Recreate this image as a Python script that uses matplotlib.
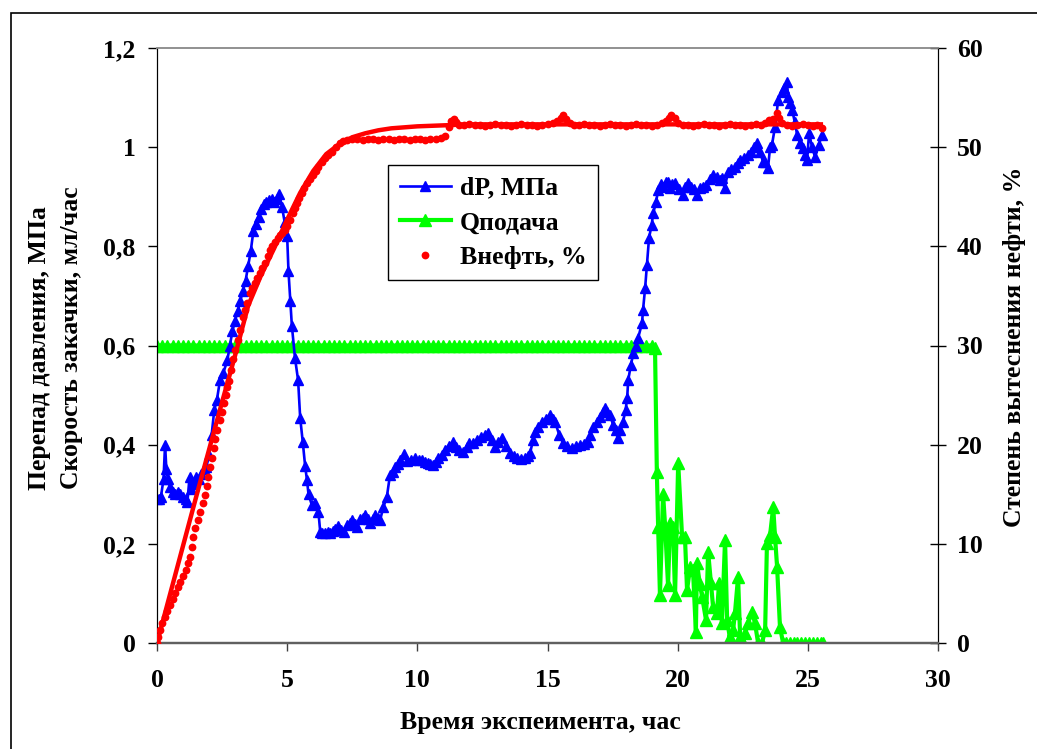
#!/usr/bin/env python3

import matplotlib
matplotlib.use("Agg")
import matplotlib.pyplot as plt
from matplotlib.lines import Line2D
from matplotlib.patches import Rectangle

# dP, MPa (left axis): (hours, value)
dp_points = [
    (0.0, 0.29), (0.08, 0.29), (0.15, 0.295), (0.25, 0.33), (0.31, 0.40), (0.36, 0.35),
    (0.42, 0.33), (0.5, 0.315), (0.6, 0.305), (0.7, 0.30), (0.8, 0.305), (0.9, 0.30),
    (1.0, 0.295), (1.1, 0.29), (1.17, 0.285), (1.25, 0.335), (1.32, 0.31), (1.4, 0.32),
    (1.5, 0.335), (1.6, 0.33), (1.7, 0.34), (1.8, 0.35), (1.9, 0.355), (2.0, 0.38),
    (2.1, 0.42), (2.2, 0.47), (2.3, 0.49), (2.42, 0.53), (2.55, 0.545), (2.7, 0.57),
    (2.8, 0.60), (2.9, 0.63), (3.0, 0.65), (3.1, 0.67), (3.2, 0.69), (3.3, 0.71),
    (3.4, 0.73), (3.5, 0.76), (3.6, 0.79), (3.7, 0.83), (3.8, 0.845), (3.9, 0.86),
    (4.0, 0.875), (4.1, 0.885), (4.2, 0.89), (4.3, 0.893), (4.4, 0.895), (4.5, 0.89),
    (4.6, 0.895), (4.7, 0.905), (4.8, 0.88), (4.9, 0.85), (5.0, 0.82), (5.05, 0.75),
    (5.12, 0.69), (5.18, 0.64), (5.3, 0.575), (5.42, 0.53), (5.5, 0.454), (5.6, 0.405),
    (5.69, 0.357), (5.76, 0.329), (5.82, 0.30), (5.95, 0.278), (6.07, 0.282), (6.2, 0.265),
    (6.27, 0.224), (6.35, 0.222), (6.45, 0.222), (6.55, 0.223), (6.65, 0.222), (6.75, 0.225),
    (6.85, 0.23), (6.95, 0.236), (7.05, 0.228), (7.2, 0.224), (7.3, 0.238), (7.4, 0.242),
    (7.5, 0.248), (7.6, 0.24), (7.68, 0.234), (7.8, 0.25), (7.9, 0.252), (8.0, 0.258),
    (8.1, 0.25), (8.18, 0.242), (8.28, 0.25), (8.37, 0.258), (8.47, 0.252), (8.57, 0.248),
    (8.7, 0.275), (8.83, 0.295), (8.95, 0.339), (9.05, 0.345), (9.14, 0.355), (9.25, 0.362),
    (9.33, 0.369), (9.49, 0.381), (9.6, 0.368), (9.75, 0.37), (9.91, 0.373), (10.05, 0.37),
    (10.18, 0.369), (10.3, 0.365), (10.4, 0.363), (10.5, 0.361), (10.6, 0.359), (10.7, 0.365),
    (10.8, 0.373), (10.95, 0.38), (11.06, 0.389), (11.2, 0.398), (11.37, 0.405), (11.5, 0.395),
    (11.6, 0.39), (11.76, 0.385), (11.9, 0.395), (12.0, 0.403), (12.14, 0.403), (12.3, 0.41),
    (12.45, 0.415), (12.6, 0.42), (12.72, 0.424), (12.85, 0.41), (12.98, 0.395), (13.1, 0.405),
    (13.25, 0.413), (13.4, 0.398), (13.56, 0.383), (13.7, 0.378), (13.83, 0.373), (14.0, 0.372),
    (14.14, 0.373), (14.25, 0.378), (14.33, 0.383), (14.45, 0.41), (14.52, 0.426), (14.65, 0.436),
    (14.79, 0.446), (14.95, 0.452), (15.1, 0.46), (15.2, 0.452), (15.29, 0.446), (15.45, 0.42),
    (15.6, 0.403), (15.75, 0.398), (15.94, 0.393), (16.1, 0.397), (16.25, 0.40), (16.4, 0.402),
    (16.56, 0.405), (16.65, 0.42), (16.75, 0.436), (16.9, 0.446), (17.02, 0.456), (17.12, 0.465),
    (17.21, 0.474), (17.3, 0.465), (17.4, 0.46), (17.52, 0.44), (17.62, 0.43), (17.71, 0.413),
    (17.8, 0.43), (17.9, 0.446), (18.0, 0.47), (18.06, 0.494), (18.1, 0.53), (18.2, 0.56),
    (18.3, 0.585), (18.4, 0.60), (18.48, 0.615), (18.63, 0.645), (18.67, 0.672), (18.75, 0.716),
    (18.82, 0.762), (18.9, 0.817), (19.0, 0.843), (19.06, 0.867), (19.17, 0.889), (19.25, 0.914),
    (19.35, 0.925), (19.45, 0.92), (19.55, 0.93), (19.62, 0.93), (19.7, 0.918), (19.8, 0.925),
    (19.9, 0.928), (20.05, 0.915), (20.2, 0.904), (20.3, 0.92), (20.4, 0.928), (20.5, 0.92),
    (20.62, 0.915), (20.74, 0.904), (20.86, 0.918), (20.98, 0.92), (21.1, 0.924), (21.25, 0.935),
    (21.36, 0.944), (21.5, 0.94), (21.63, 0.934), (21.7, 0.938), (21.8, 0.918), (21.94, 0.95),
    (22.05, 0.955), (22.2, 0.96), (22.3, 0.968), (22.4, 0.975), (22.55, 0.978), (22.7, 0.984),
    (22.8, 0.99), (22.95, 1.0), (23.05, 1.008), (23.17, 0.99), (23.28, 0.97), (23.36, 0.97),
    (23.47, 0.958), (23.55, 1.0), (23.62, 1.004), (23.74, 1.041), (23.86, 1.095), (24.0, 1.111),
    (24.1, 1.12), (24.2, 1.131), (24.24, 1.101), (24.32, 1.09), (24.4, 1.075), (24.5, 1.05),
    (24.59, 1.025), (24.7, 1.008), (24.82, 0.998), (24.9, 0.985), (24.97, 0.974), (25.05, 1.029),
    (25.16, 1.0), (25.28, 0.98), (25.42, 1.005), (25.55, 1.025),
]

# Q feed, ml/h (left axis): (hours, value)
q_points = [
    (0.0, 0.6), (0.2, 0.6), (0.4, 0.6), (0.6, 0.6), (0.8, 0.6), (1.0, 0.6), (1.2, 0.6),
    (1.4, 0.6), (1.6, 0.6), (1.8, 0.6), (2.0, 0.6), (2.2, 0.6), (2.4, 0.6), (2.6, 0.6),
    (2.8, 0.6), (3.0, 0.6), (3.2, 0.6), (3.4, 0.6), (3.6, 0.6), (3.8, 0.6), (4.0, 0.6),
    (4.2, 0.6), (4.4, 0.6), (4.6, 0.6), (4.8, 0.6), (5.0, 0.6), (5.2, 0.6), (5.4, 0.6),
    (5.6, 0.6), (5.8, 0.6), (6.0, 0.6), (6.2, 0.6), (6.4, 0.6), (6.6, 0.6), (6.8, 0.6),
    (7.0, 0.6), (7.2, 0.6), (7.4, 0.6), (7.6, 0.6), (7.8, 0.6), (8.0, 0.6), (8.2, 0.6),
    (8.4, 0.6), (8.6, 0.6), (8.8, 0.6), (9.0, 0.6), (9.2, 0.6), (9.4, 0.6), (9.6, 0.6),
    (9.8, 0.6), (10.0, 0.6), (10.2, 0.6), (10.4, 0.6), (10.6, 0.6), (10.8, 0.6), (11.0, 0.6),
    (11.2, 0.6), (11.4, 0.6), (11.6, 0.6), (11.8, 0.6), (12.0, 0.6), (12.2, 0.6), (12.4, 0.6),
    (12.6, 0.6), (12.8, 0.6), (13.0, 0.6), (13.2, 0.6), (13.4, 0.6), (13.6, 0.6), (13.8, 0.6),
    (14.0, 0.6), (14.2, 0.6), (14.4, 0.6), (14.6, 0.6), (14.8, 0.6), (15.0, 0.6), (15.2, 0.6),
    (15.4, 0.6), (15.6, 0.6), (15.8, 0.6), (16.0, 0.6), (16.2, 0.6), (16.4, 0.6), (16.6, 0.6),
    (16.8, 0.6), (17.0, 0.6), (17.2, 0.6), (17.4, 0.6), (17.6, 0.6), (17.8, 0.6), (18.0, 0.6),
    (18.2, 0.6), (18.4, 0.6), (18.6, 0.6), (18.8, 0.6), (19.0, 0.6), (19.13, 0.595),
    (19.2, 0.345), (19.25, 0.234), (19.32, 0.097), (19.44, 0.30), (19.52, 0.234), (19.63, 0.117),
    (19.71, 0.242), (19.82, 0.234), (19.9, 0.097), (20.02, 0.363), (20.17, 0.214), (20.28, 0.214),
    (20.36, 0.107), (20.48, 0.153), (20.59, 0.147), (20.7, 0.022), (20.74, 0.161), (20.85, 0.12),
    (20.94, 0.093), (21.09, 0.046), (21.17, 0.184), (21.28, 0.121), (21.36, 0.073), (21.51, 0.06),
    (21.59, 0.121), (21.7, 0.04), (21.82, 0.208), (21.9, 0.046), (22.0, 0.012), (22.13, 0.026),
    (22.2, 0.06), (22.32, 0.133), (22.4, 0.012), (22.51, 0.0), (22.6, 0.02), (22.7, 0.04),
    (22.86, 0.063), (22.97, 0.04), (23.09, 0.0), (23.24, 0.0), (23.36, 0.026), (23.43, 0.202),
    (23.55, 0.218), (23.67, 0.274), (23.74, 0.214), (23.82, 0.153), (23.93, 0.032), (24.05, 0.0),
    (24.15, 0.0), (24.3, 0.0), (24.45, 0.0), (24.6, 0.0), (24.75, 0.0), (24.9, 0.0),
    (25.05, 0.0), (25.2, 0.0), (25.35, 0.0), (25.5, 0.0), (25.6, 0.0),
]

# oil displacement, % (right axis), measured points: (hours, %)
oil_points = [
    (0.0, 0.0), (0.05, 0.6), (0.11, 1.3), (0.2, 2.0), (0.3, 2.6), (0.4, 3.2), (0.5, 3.8),
    (0.6, 4.4), (0.7, 5.0), (0.8, 5.6), (0.9, 6.2), (1.0, 6.8), (1.1, 7.4), (1.2, 8.1),
    (1.27, 8.7), (1.34, 9.7), (1.38, 10.7), (1.46, 11.6), (1.58, 12.4), (1.65, 13.2),
    (1.77, 14.1), (1.84, 14.9), (1.92, 15.8), (1.96, 16.7), (2.04, 17.7), (2.11, 18.7),
    (2.19, 19.7), (2.23, 20.6), (2.31, 21.5), (2.42, 22.5), (2.5, 23.3), (2.57, 24.2),
    (2.65, 25.0), (2.69, 25.8), (2.77, 26.4), (2.85, 27.5), (2.92, 28.6), (3.0, 29.5),
    (3.1, 30.6), (3.19, 31.6), (3.3, 32.9), (3.38, 33.6), (3.46, 34.3), (3.57, 35.3),
    (3.66, 35.8), (3.76, 36.3), (3.86, 36.8), (3.96, 37.3), (4.05, 37.8), (4.15, 38.3),
    (4.25, 39.0), (4.34, 39.6), (4.43, 40.0), (4.53, 40.4), (4.63, 40.8), (4.73, 41.1),
    (4.82, 41.3), (4.92, 41.6), (5.0, 42.1), (5.1, 42.7), (5.22, 43.4), (5.3, 43.9),
    (5.38, 44.4), (5.47, 44.9), (5.57, 45.4), (5.66, 45.9), (5.76, 46.4), (5.88, 46.8),
    (6.0, 47.2), (6.1, 47.6), (6.19, 48.0), (6.32, 48.5), (6.45, 48.9), (6.58, 49.2),
    (6.72, 49.5), (6.88, 50.0), (7.03, 50.4), (7.15, 50.6), (7.3, 50.7), (7.5, 50.8),
    (7.7, 50.8), (7.9, 50.7), (8.1, 50.8), (8.3, 50.8), (8.5, 50.7), (8.7, 50.8), (8.9, 50.8),
    (9.1, 50.7), (9.3, 50.8), (9.5, 50.8), (9.7, 50.7), (9.9, 50.8), (10.1, 50.8),
    (10.3, 50.7), (10.5, 50.8), (10.7, 50.8), (10.9, 50.9), (11.05, 51.1), (11.2, 52.0),
    (11.3, 52.6), (11.4, 52.8), (11.5, 52.5), (11.6, 52.2), (11.8, 52.2), (12.0, 52.3),
    (12.2, 52.2), (12.4, 52.2), (12.6, 52.1), (12.8, 52.2), (13.0, 52.3), (13.2, 52.2),
    (13.4, 52.2), (13.6, 52.1), (13.8, 52.2), (14.0, 52.3), (14.2, 52.2), (14.4, 52.2),
    (14.6, 52.1), (14.8, 52.2), (15.0, 52.3), (15.2, 52.4), (15.35, 52.6), (15.5, 52.9),
    (15.6, 53.2), (15.7, 52.8), (15.85, 52.4), (16.0, 52.2), (16.2, 52.2), (16.4, 52.3),
    (16.6, 52.2), (16.8, 52.2), (17.0, 52.1), (17.2, 52.2), (17.4, 52.3), (17.6, 52.2),
    (17.8, 52.2), (18.0, 52.1), (18.2, 52.2), (18.4, 52.3), (18.6, 52.2), (18.8, 52.2),
    (19.0, 52.1), (19.2, 52.2), (19.4, 52.4), (19.55, 52.6), (19.65, 52.9), (19.75, 53.2),
    (19.9, 52.9), (20.0, 52.4), (20.2, 52.2), (20.4, 52.2), (20.6, 52.1), (20.8, 52.2),
    (21.0, 52.3), (21.2, 52.2), (21.4, 52.2), (21.6, 52.1), (21.8, 52.2), (22.0, 52.3),
    (22.2, 52.2), (22.4, 52.2), (22.6, 52.1), (22.8, 52.2), (23.0, 52.3), (23.2, 52.2),
    (23.35, 52.4), (23.5, 52.7), (23.65, 52.8), (23.8, 53.4), (23.9, 52.9), (24.0, 52.4),
    (24.2, 52.2), (24.4, 52.1), (24.6, 52.2), (24.8, 52.3), (25.0, 52.2), (25.2, 52.1),
    (25.35, 52.2), (25.55, 51.9),
]

# smooth trend for oil displacement, %: (hours, %)
trend_points = [
    (0.0, 0.0), (0.5, 4.9), (1.0, 9.8), (1.5, 14.7), (2.0, 19.5), (2.5, 24.3), (3.0, 29.0),
    (3.5, 34.0), (4.0, 37.1), (4.5, 39.8), (5.0, 42.7), (5.5, 45.4), (6.0, 47.6), (6.5, 49.3),
    (7.0, 50.3), (7.5, 51.0), (8.0, 51.4), (8.5, 51.7), (9.0, 51.9), (10.0, 52.1), (11.0, 52.2),
    (12.0, 52.3), (14.0, 52.3), (18.0, 52.3), (22.0, 52.3), (25.5, 52.3),
]

x_ticks = [0, 5, 10, 15, 20, 25, 30]
left_ticks = [0, 0.2, 0.4, 0.6, 0.8, 1.0, 1.2]
left_labels = ["0", "0,2", "0,4", "0,6", "0,8", "1", "1,2"]
right_ticks = [0, 10, 20, 30, 40, 50, 60]

dp_time, dp_val = zip(*dp_points)
q_time, q_val = zip(*q_points)
oil_time, oil_val = zip(*oil_points)
trend_time, trend_val = zip(*trend_points)

font = "Liberation Serif"
fs = 18.5
plt.rcParams['font.family'] = font
plt.rcParams['font.weight'] = 'bold'

W, H = 1037, 749
fig = plt.figure(figsize=(W / 100, H / 100), dpi=100)
ax = fig.add_axes([157 / W, 1 - 643 / H, (938 - 157) / W, (643 - 48) / H])
ax2 = ax.twinx()

# outer chart border (only left/top edges fall inside the image)
fig.patches.append(Rectangle((11 / W, -0.2), 1.5, 1.2 - 13 / H, transform=fig.transFigure,
                             fill=False, edgecolor='black', linewidth=1.2))

ax.plot(q_time, q_val, color='#00ff00', lw=3.0, marker='^', ms=8, zorder=2)
ax.plot(dp_time, dp_val, color='#0000ff', lw=1.9, marker='^', ms=6.8, zorder=3)
ax2.plot(oil_time, oil_val, ls='none', marker='o', color='#ff0000', ms=5.6, mew=0, zorder=3)
ax2.plot(trend_time, trend_val, color='#ff0000', lw=3.2, zorder=4)

ax.set_xlim(0, 30)
ax.set_ylim(0, 1.2)
ax2.set_ylim(0, 60)
ax.set_xticks(x_ticks)
ax.set_xticklabels([str(v) for v in x_ticks], fontsize=fs, fontweight='bold')
ax.set_yticks(left_ticks)
ax.set_yticklabels(left_labels, fontsize=fs, fontweight='bold')
ax2.set_yticks(right_ticks)
ax2.set_yticklabels([str(v) for v in right_ticks], fontsize=fs, fontweight='bold')

ax.tick_params(axis='x', direction='out', length=6, width=1, color='#404040', pad=13)
ax.tick_params(axis='y', direction='out', length=6.5, width=1, color='black', pad=9)
ax2.tick_params(axis='y', direction='inout', length=11, width=1, color='black', pad=8)

for a in (ax, ax2):
    a.spines['top'].set_color('#909090')
    a.spines['top'].set_linewidth(1.2)
    a.spines['bottom'].set_color('#606060')
    a.spines['bottom'].set_linewidth(1.6)
    a.spines['left'].set_color('black')
    a.spines['right'].set_color('black')

fig.text(540 / W, 1 - 722 / H, "Время экспеимента, час", ha='center', va='center',
         fontsize=fs, fontweight='bold')
fig.text(40 / W, 1 - 348 / H, "Перепад давления, МПа", rotation=90,
         ha='center', va='center', fontsize=fs, fontweight='bold')
fig.text(72 / W, 1 - 338 / H, "Скорость закачки, мл/час", rotation=90,
         ha='center', va='center', fontsize=fs, fontweight='bold')
fig.text(1015 / W, 1 - 347 / H, "Степень вытеснения нефти, %", rotation=90,
         ha='center', va='center', fontsize=fs, fontweight='bold')

handles = [Line2D([], [], color='#0000ff', lw=1.9, marker='^', ms=6.8),
           Line2D([], [], color='#00ff00', lw=3.0, marker='^', ms=8),
           Line2D([], [], color='#ff0000', ls='none', marker='o', ms=5.6, mew=0)]
leg = ax2.legend(handles, ["dP, МПа", "Qподача", "Внефть, %"], loc='upper left',
                 bbox_to_anchor=(388 / W, 1 - 165 / H), bbox_transform=fig.transFigure,
                 prop={'family': font, 'weight': 'bold', 'size': fs},
                 frameon=True, fancybox=False, edgecolor='black', framealpha=1,
                 handlelength=2.0, handletextpad=0.35, borderpad=0.45, labelspacing=0.45,
                 borderaxespad=0)
leg.get_frame().set_linewidth(1.0)

fig.savefig('out.png', dpi=100)
plt.close()
